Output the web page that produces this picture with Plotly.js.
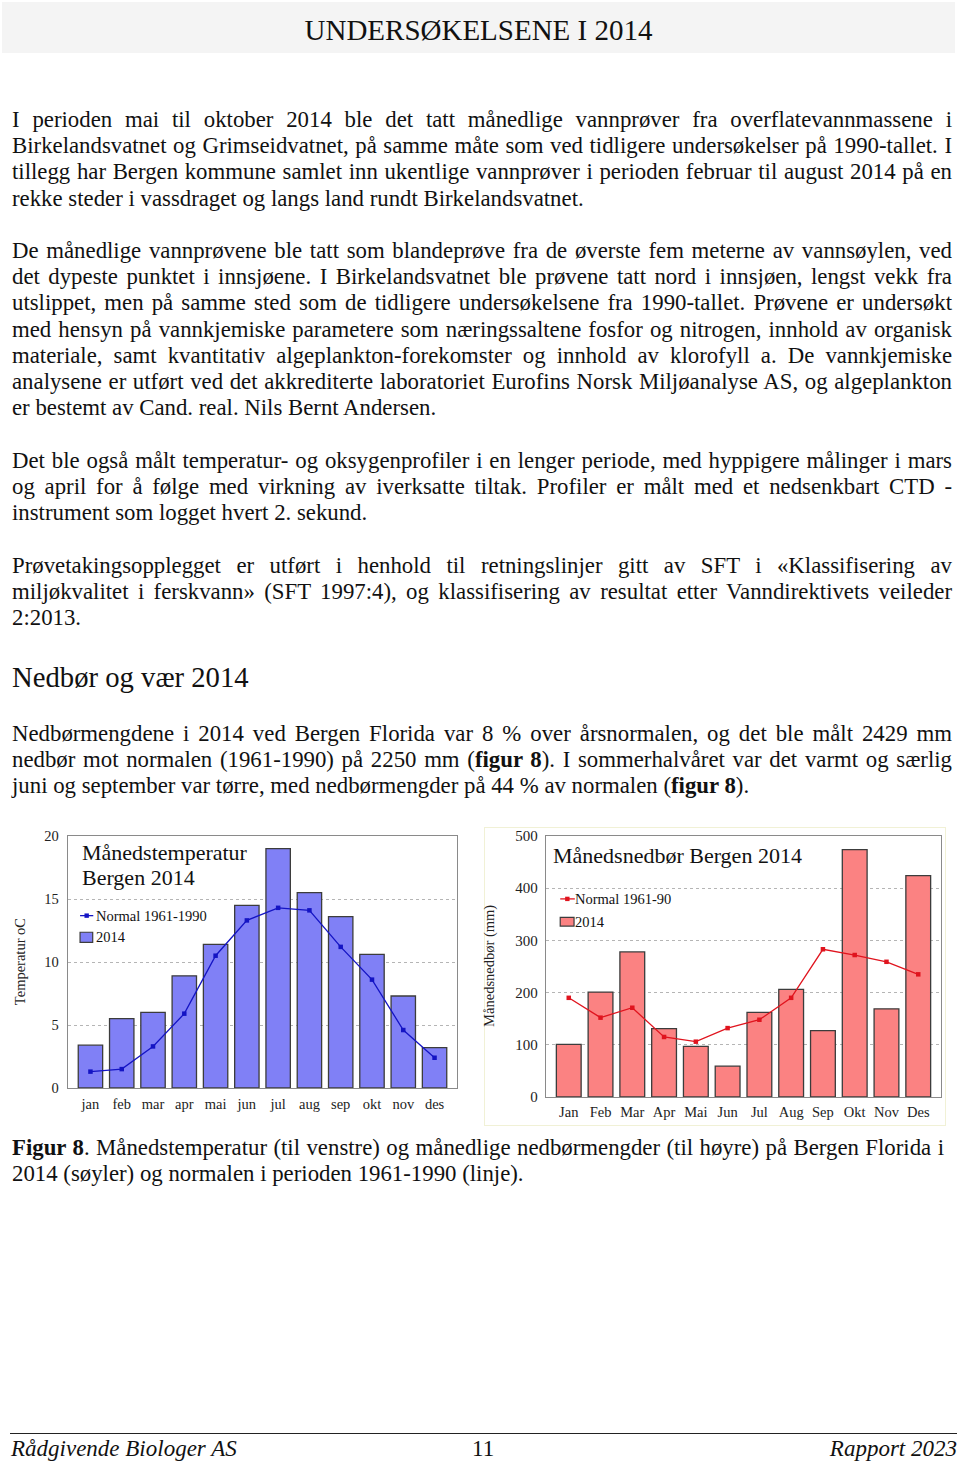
<!DOCTYPE html>
<html>
<head>
<meta charset="utf-8">
<script src="https://cdn.plot.ly/plotly-3.0.1.min.js"></script>
<style>
  html, body { margin:0; padding:0; background:#fff; }
  body { width:960px; height:1462px; position:relative; overflow:hidden;
         font-family:'Liberation Serif','Times New Roman',serif; color:#111; }
  .hdr { position:absolute; left:2px; top:2px; width:953px; height:51px; background:#f4f4f4; }
  .hdr span { position:absolute; left:0; width:953px; top:12px; text-align:center; font-size:29px;
              line-height:32px; color:#111; }
  .para { position:absolute; left:12px; width:940px; font-size:22.8px; line-height:26.2px; }
  .para div, .cap div { white-space:nowrap; }
  .j { text-align:justify; text-align-last:justify; }
  .h2 { position:absolute; left:12px; font-size:28.7px; line-height:32px; }
  .cap { position:absolute; left:12px; width:932px; font-size:22.8px; line-height:26.2px; }
  .foot { position:absolute; top:1433px; left:10px; width:947px; height:0; border-top:1.6px solid #222; }
  .ft { position:absolute; top:1435px; font-size:23px; line-height:28px; font-style:italic; }
  .chart { position:absolute; top:820px; width:480px; height:310px; }
  .rframe { position:absolute; left:484px; top:827px; width:460px; height:297px; border:1px solid #f1f1d6; }
</style>
</head>
<body>
<div class="hdr"><span>UNDERSØKELSENE I 2014</span></div>

<div class="para" style="top:107px">
  <div class="j">I perioden mai til oktober 2014 ble det tatt månedlige vannprøver fra overflatevannmassene i</div>
  <div class="j">Birkelandsvatnet og Grimseidvatnet, på samme måte som ved tidligere undersøkelser på 1990-tallet. I</div>
  <div class="j">tillegg har Bergen kommune samlet inn ukentlige vannprøver i perioden februar til august 2014 på en</div>
  <div>rekke steder i vassdraget og langs land rundt Birkelandsvatnet.</div>
</div>

<div class="para" style="top:238px">
  <div class="j">De månedlige vannprøvene ble tatt som blandeprøve fra de øverste fem meterne av vannsøylen, ved</div>
  <div class="j">det dypeste punktet i innsjøene. I Birkelandsvatnet ble prøvene tatt nord i innsjøen, lengst vekk fra</div>
  <div class="j">utslippet, men på samme sted som de tidligere undersøkelsene fra 1990-tallet. Prøvene er undersøkt</div>
  <div class="j">med hensyn på vannkjemiske parametere som næringssaltene fosfor og nitrogen, innhold av organisk</div>
  <div class="j">materiale, samt kvantitativ algeplankton-forekomster og innhold av klorofyll a. De vannkjemiske</div>
  <div class="j">analysene er utført ved det akkrediterte laboratoriet Eurofins Norsk Miljøanalyse AS, og algeplankton</div>
  <div>er bestemt av Cand. real. Nils Bernt Andersen.</div>
</div>

<div class="para" style="top:448px">
  <div class="j">Det ble også målt temperatur- og oksygenprofiler i en lenger periode, med hyppigere målinger i mars</div>
  <div class="j">og april for å følge med virkning av iverksatte tiltak. Profiler er målt med et nedsenkbart CTD -</div>
  <div>instrument som logget hvert 2. sekund.</div>
</div>

<div class="para" style="top:553px">
  <div class="j">Prøvetakingsopplegget er utført i henhold til retningslinjer gitt av SFT i «Klassifisering av</div>
  <div class="j">miljøkvalitet i ferskvann» (SFT 1997:4), og klassifisering av resultat etter Vanndirektivets veileder</div>
  <div>2:2013.</div>
</div>

<div class="h2" style="top:661px">Nedbør og vær 2014</div>

<div class="para" style="top:721px">
  <div class="j">Nedbørmengdene i 2014 ved Bergen Florida var 8 % over årsnormalen, og det ble målt 2429 mm</div>
  <div class="j">nedbør mot normalen (1961-1990) på 2250 mm (<b>figur 8</b>). I sommerhalvåret var det varmt og særlig</div>
  <div>juni og september var tørre, med nedbørmengder på 44 % av normalen (<b>figur 8</b>).</div>
</div>

<div class="rframe"></div>
<div id="tempChart" class="chart" style="left:0px"></div>
<div id="rainChart" class="chart" style="left:480px"></div>

<div class="cap" style="top:1135px">
  <div class="j"><b>Figur 8</b>. Månedstemperatur (til venstre) og månedlige nedbørmengder (til høyre) på Bergen Florida i</div>
  <div>2014 (søyler) og normalen i perioden 1961-1990 (linje).</div>
</div>

<div class="foot"></div>
<div class="ft" style="left:11px">Rådgivende Biologer AS</div>
<div class="ft" style="left:472px;font-style:normal">11</div>
<div class="ft" style="right:3px">Rapport 2023</div>

<script>
// fit justified lines that are naturally wider than their box
document.querySelectorAll('.j').forEach(d => {
  const W = d.clientWidth;
  const s = document.createElement('span');
  s.innerHTML = d.innerHTML; s.style.whiteSpace = 'nowrap';
  d.innerHTML = ''; d.appendChild(s);
  const w = s.getBoundingClientRect().width;
  const spaces = (s.textContent.match(/ /g) || []).length;
  d.innerHTML = s.innerHTML;
  if (w > W && spaces > 0) d.style.wordSpacing = (-(w - W) / spaces - 0.05) + 'px';
});
</script>

<script>
// ---- Data ----
const tempMonths = ['jan','feb','mar','apr','mai','jun','jul','aug','sep','okt','nov','des'];
const temp2014   = [3.4, 5.5, 6.0, 8.9, 11.4, 14.5, 19.0, 15.5, 13.6, 10.6, 7.3, 3.2];
const tempNormal = [1.3, 1.5, 3.3, 5.9, 10.5, 13.3, 14.3, 14.1, 11.2, 8.6, 4.6, 2.4];
const tempTicks  = [0, 5, 10, 15, 20];

const rainMonths = ['Jan','Feb','Mar','Apr','Mai','Jun','Jul','Aug','Sep','Okt','Nov','Des'];
const rain2014   = [101, 201, 278, 131, 97, 59, 162, 206, 127, 474, 169, 424];
const rainNormal = [190, 152, 171, 115, 106, 132, 148, 190, 283, 272, 259, 235];
const rainTicks  = [0, 100, 200, 300, 400, 500];

const FONT = "'Liberation Serif','Times New Roman',serif";

function makeChart(div, cfg) {
  const traces = [
    { type:'bar', x:cfg.cats, y:cfg.bars, name:'2014',
      marker:{ color:cfg.barColor, line:{ color:'#3c3c3c', width:1.3 } }, hoverinfo:'skip' },
    { type:'scatter', mode:'lines+markers', x:cfg.cats, y:cfg.line, name:cfg.lineName,
      line:{ color:cfg.lineColor, width:1.3 },
      marker:{ symbol:'square', size:4.5, color:cfg.lineColor }, hoverinfo:'skip' }
  ];
  const pw = 480 - cfg.ml - cfg.mr, ph = 310 - cfg.mt - cfg.mb;
  const px = v => v / pw, py = v => v / ph;
  const L = cfg.leg; // legend positions in paper coords
  const shapes = [
    { type:'line', xref:'paper', yref:'paper', x0:L.lx0, x1:L.lx1, y0:L.ly, y1:L.ly,
      line:{ color:cfg.lineColor, width:1.3 } },
    { type:'rect', xref:'paper', yref:'paper', x0:L.mx - px(2.2), x1:L.mx + px(2.2),
      y0:L.ly - py(2.2), y1:L.ly + py(2.2), fillcolor:cfg.lineColor, line:{ width:0 } },
    { type:'rect', xref:'paper', yref:'paper', x0:L.px0, x1:L.px1, y0:L.py0, y1:L.py1,
      fillcolor:cfg.barColor, line:{ color:'#3c3c3c', width:1.2 } }
  ];
  const ann = cfg.titles.map(t => ({ xref:'paper', yref:'paper', x:t.x, y:t.y, text:t.text,
      xanchor:'left', yanchor:'middle', showarrow:false, font:{ family:FONT, size:22, color:'#111' } }));
  ann.push({ xref:'paper', yref:'paper', x:L.tx, y:L.ly, text:cfg.lineName, xanchor:'left', yanchor:'middle',
      showarrow:false, font:{ family:FONT, size:14.5, color:'#111' } });
  ann.push({ xref:'paper', yref:'paper', x:L.tx, y:(L.py0 + L.py1) / 2, text:'2014', xanchor:'left', yanchor:'middle',
      showarrow:false, font:{ family:FONT, size:14.5, color:'#111' } });
  ann.push({ xref:'paper', yref:'paper', x:cfg.ytx, y:cfg.yty, text:cfg.ytitle, textangle:-90,
      xanchor:'center', yanchor:'middle', showarrow:false, font:{ family:FONT, size:14.5, color:'#222' } });

  const layout = {
    width:480, height:310,
    margin:{ l:cfg.ml, r:cfg.mr, t:cfg.mt, b:cfg.mb, pad:0 },
    paper_bgcolor:'rgba(0,0,0,0)', plot_bgcolor:'#ffffff',
    showlegend:false, bargap:0.22,
    font:{ family:FONT, size:14.5, color:'#222' },
    xaxis:{ type:'category', showline:true, mirror:true, linecolor:'#8a8a8a', linewidth:1.3,
            ticks:'', showgrid:false, ticklabelstandoff:cfg.xso, tickfont:{ family:FONT, size:14.5, color:'#222' },
            fixedrange:true },
    yaxis:{ range:cfg.yrange, tickvals:cfg.ticks, showline:true, mirror:true, linecolor:'#8a8a8a', linewidth:1.3,
            ticks:'', showgrid:true, gridcolor:'#b5b5b5', griddash:'dot', gridwidth:1, zeroline:false,
            ticklabelstandoff:cfg.yso, tickfont:{ family:FONT, size:cfg.ytsize, color:'#222' }, fixedrange:true },
    shapes:shapes, annotations:ann
  };
  Plotly.newPlot(div, traces, layout, { staticPlot:true, displayModeBar:false });
}

// Left chart: plot area 68..457 x, 836..1088 y (page)
makeChart('tempChart', {
  cats:tempMonths, bars:temp2014, line:tempNormal, lineName:'Normal 1961-1990',
  barColor:'#8080f6', lineColor:'#1414c4', yrange:[0,20], ticks:tempTicks, ytsize:14.5,
  ml:68, mr:23, mt:16, mb:42, xso:2, yso:5,
  titles:[ { x:0.030, y:0.935, text:'Månedstemperatur' }, { x:0.030, y:0.836, text:'Bergen 2014' } ],
  leg:{ lx0:0.031, lx1:0.065, ly:0.684, mx:0.048, tx:0.066,
        px0:0.031, px1:0.0635, py0:0.578, py1:0.618 },
  ytitle:'Temperatur oC', ytx:-0.123, yty:0.5
});

// Right chart: plot area 546..941 x, 836..1097 y (page)
makeChart('rainChart', {
  cats:rainMonths, bars:rain2014, line:rainNormal, lineName:'Normal 1961-90',
  barColor:'#fb8282', lineColor:'#e0141e', yrange:[0,500], ticks:rainTicks, ytsize:15,
  ml:66, mr:19, mt:16, mb:33, xso:1, yso:4,
  titles:[ { x:0.013, y:0.927, text:'Månedsnedbør Bergen 2014' } ],
  leg:{ lx0:0.036, lx1:0.073, ly:0.759, mx:0.054, tx:0.068,
        px0:0.036, px1:0.071, py0:0.655, py1:0.6885 },
  ytitle:'Månedsnedbør (mm)', ytx:-0.142, yty:0.502
});
</script>
</body>
</html>
